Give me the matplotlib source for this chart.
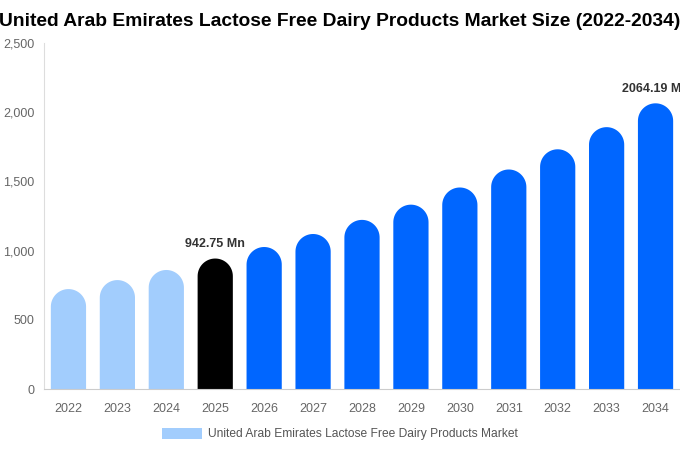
import matplotlib
matplotlib.use("Agg")
import matplotlib.pyplot as plt
import numpy as np
from matplotlib.patches import Rectangle, PathPatch
from matplotlib.path import Path
from matplotlib.ticker import FuncFormatter

plt.rcParams['font.family'] = ['Liberation Sans', 'DejaVu Sans']

years = ['2022', '2023', '2024', '2025', '2026', '2027', '2028', '2029', '2030', '2031', '2032', '2033', '2034']
values = [722, 787, 860, 942.75, 1026, 1120, 1222, 1332, 1456, 1586, 1732, 1892, 2064.19]
labels = {3: '942.75 Mn', 12: '2064.19 Mn'}
colors = ['#a2cdfd'] * 3 + ['#000000'] + ['#0066ff'] * 9
legend_label = 'United Arab Emirates Lactose Free Dairy Products Market'
title = 'United Arab Emirates Lactose Free Dairy Products Market Size (2022-2034)'

W, H = 680, 450
fig = plt.figure(figsize=(W / 100, H / 100), dpi=100)
ax = fig.add_axes([44 / W, 1 - 389 / H, (680 - 44) / W, (389 - 43) / H])
ax.set_xlim(-0.5, 12.5)
ax.set_ylim(0, 2500)

bw = 0.72
ax_h_px = 389 - 43
upp = 2500 / ax_h_px
r = bw * (636 / 13) * upp / 2  # vertical radius in data units for a round cap

theta = np.linspace(0, np.pi, 40)
for i, (v, c) in enumerate(zip(values, colors)):
    x0, x1 = i - bw / 2, i + bw / 2
    yc = v - r
    xs = [x0, x1, x1] + list(i + (bw / 2) * np.cos(theta)) + [x0, x0]
    ys = [0, 0, yc] + list(yc + r * np.sin(theta)) + [0, 0]
    codes = [Path.MOVETO] + [Path.LINETO] * (len(xs) - 2) + [Path.CLOSEPOLY]
    ax.add_patch(PathPatch(Path(np.column_stack([xs, ys]), codes),
                           facecolor=c, edgecolor='none'))
    if i in labels:
        ax.text(i, v + 62, labels[i], ha='center', va='bottom', fontsize=9,
                fontweight='bold', color='#333333', clip_on=False)

ax.set_xticks(range(len(years)))
ax.set_xticklabels(years)
ax.set_yticks([0, 500, 1000, 1500, 2000, 2500])
ax.yaxis.set_major_formatter(FuncFormatter(lambda x, p: f'{int(x):,}'))
ax.tick_params(axis='both', length=0, labelsize=9, colors='#666666')
ax.tick_params(axis='x', pad=10)
ax.tick_params(axis='y', pad=7)
for s in ['top', 'right']:
    ax.spines[s].set_visible(False)
ax.spines['left'].set_color('#dddddd')
ax.spines['bottom'].set_color('#cccccc')

fig.text(0.5, 1 - 21 / H, title, ha='center', va='center', fontsize=13.85,
         fontweight='bold', color='#000000')

fig.patches.append(Rectangle((162 / W, 1 - 439 / H), 40 / W, 11 / H,
                             transform=fig.transFigure, facecolor='#a2cdfd', edgecolor='none'))
fig.text(208 / W, 1 - 433.5 / H, legend_label, ha='left', va='center', fontsize=8.65, color='#555555')

fig.savefig('out.png', dpi=100)
